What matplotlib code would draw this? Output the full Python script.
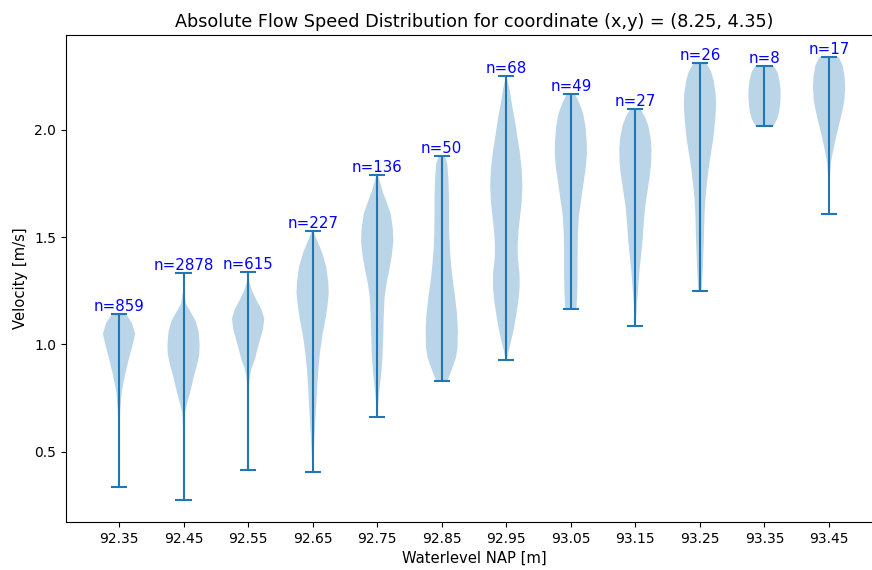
import numpy as np
import matplotlib
matplotlib.use("Agg")
import matplotlib.pyplot as plt

# Waterlevel classes (x axis) and sample counts per class
waterlevels = ["92.35", "92.45", "92.55", "92.65", "92.75", "92.85",
               "92.95", "93.05", "93.15", "93.25", "93.35", "93.45"]
counts = [859, 2878, 615, 227, 136, 50, 68, 49, 27, 26, 8, 17]

# Min / max velocity per class [m/s]
v_min = [0.334, 0.276, 0.414, 0.408, 0.663, 0.831,
         0.930, 1.165, 1.085, 1.247, 2.017, 1.606]
v_max = [1.140, 1.331, 1.337, 1.528, 1.789, 1.877,
         2.249, 2.168, 2.098, 2.311, 2.300, 2.339]

# Density profiles: (velocity, relative density)
prof_9235 = [(1.140, 0.45), (1.10, 0.80), (1.05, 1.00), (1.00, 0.85), (0.93, 0.60),
             (0.85, 0.35), (0.78, 0.17), (0.70, 0.08), (0.62, 0.04), (0.50, 0.015),
             (0.334, 0.005)]
prof_9245 = [(1.331, 0.00), (1.25, 0.03), (1.19, 0.15), (1.15, 0.45), (1.11, 0.75),
             (1.06, 0.93), (1.00, 1.00), (0.95, 0.97), (0.90, 0.82), (0.84, 0.60),
             (0.78, 0.42), (0.72, 0.20), (0.68, 0.08), (0.60, 0.03), (0.50, 0.015),
             (0.276, 0.005)]
prof_9255 = [(1.337, 0.02), (1.29, 0.08), (1.25, 0.25), (1.21, 0.50), (1.16, 0.85),
             (1.12, 1.00), (1.07, 0.92), (1.02, 0.73), (0.97, 0.55), (0.93, 0.42),
             (0.89, 0.22), (0.85, 0.10), (0.78, 0.04), (0.65, 0.02), (0.414, 0.01)]
prof_9265 = [(1.528, 0.05), (1.49, 0.25), (1.43, 0.58), (1.36, 0.85), (1.29, 0.97),
             (1.24, 1.00), (1.18, 0.92), (1.12, 0.80), (1.04, 0.60), (0.96, 0.45),
             (0.88, 0.35), (0.80, 0.28), (0.72, 0.22), (0.65, 0.17), (0.57, 0.11),
             (0.50, 0.06), (0.44, 0.03), (0.408, 0.02)]
prof_9275 = [(1.789, 0.05), (1.75, 0.20), (1.71, 0.35), (1.66, 0.60), (1.61, 0.83),
             (1.54, 0.97), (1.48, 1.00), (1.41, 0.90), (1.34, 0.73), (1.28, 0.57),
             (1.22, 0.46), (1.14, 0.41), (1.06, 0.38), (0.94, 0.33), (0.88, 0.27),
             (0.83, 0.20), (0.77, 0.12), (0.72, 0.06), (0.663, 0.03)]
prof_9285 = [(1.877, 0.20), (1.84, 0.35), (1.76, 0.42), (1.68, 0.45), (1.60, 0.45),
             (1.53, 0.46), (1.45, 0.50), (1.37, 0.58), (1.29, 0.70), (1.22, 0.83),
             (1.14, 0.95), (1.06, 1.00), (0.98, 0.97), (0.94, 0.88), (0.90, 0.70),
             (0.86, 0.50), (0.831, 0.35)]
prof_9295 = [(2.249, 0.03), (2.19, 0.20), (2.12, 0.35), (2.05, 0.52), (1.97, 0.68),
             (1.90, 0.83), (1.82, 0.95), (1.74, 1.00), (1.66, 0.95), (1.60, 0.86),
             (1.53, 0.76), (1.46, 0.70), (1.40, 0.72), (1.33, 0.82), (1.27, 0.83),
             (1.20, 0.74), (1.13, 0.60), (1.07, 0.46), (1.01, 0.28), (0.97, 0.15),
             (0.930, 0.05)]
prof_9305 = [(2.168, 0.25), (2.13, 0.50), (2.08, 0.75), (2.02, 0.90), (1.95, 0.98),
             (1.89, 1.00), (1.82, 0.92), (1.75, 0.78), (1.68, 0.65), (1.60, 0.50),
             (1.52, 0.44), (1.43, 0.42), (1.33, 0.42), (1.25, 0.40), (1.165, 0.35)]
prof_9315 = [(2.098, 0.30), (2.06, 0.60), (2.02, 0.80), (1.96, 0.95), (1.91, 1.00),
             (1.85, 0.98), (1.79, 0.90), (1.72, 0.76), (1.65, 0.62), (1.57, 0.52),
             (1.50, 0.46), (1.42, 0.36), (1.34, 0.25), (1.26, 0.17), (1.19, 0.10),
             (1.13, 0.05), (1.085, 0.02)]
prof_9325 = [(2.311, 0.40), (2.27, 0.70), (2.23, 0.85), (2.17, 0.97), (2.12, 1.00),
             (2.05, 0.95), (1.96, 0.83), (1.88, 0.66), (1.81, 0.52), (1.73, 0.40),
             (1.65, 0.31), (1.57, 0.27), (1.50, 0.25), (1.42, 0.21), (1.34, 0.17),
             (1.29, 0.13), (1.247, 0.10)]
prof_9335 = [(2.300, 0.55), (2.27, 0.80), (2.23, 0.93), (2.19, 0.99), (2.16, 1.00),
             (2.12, 0.97), (2.08, 0.90), (2.05, 0.78), (2.017, 0.55)]
prof_9345 = [(2.339, 0.60), (2.30, 0.85), (2.25, 0.96), (2.20, 1.00), (2.14, 0.95),
             (2.09, 0.83), (2.03, 0.64), (1.96, 0.42), (1.90, 0.25), (1.85, 0.12),
             (1.78, 0.06), (1.70, 0.03), (1.606, 0.02)]

profiles = [prof_9235, prof_9245, prof_9255, prof_9265, prof_9275, prof_9285,
            prof_9295, prof_9305, prof_9315, prof_9325, prof_9335, prof_9345]


def build_stats():
    """Turn the read-off profiles into the stats dicts that Axes.violin wants"""
    stats = []
    for prof, lo, hi in zip(profiles, v_min, v_max):
        arr = np.array(prof)
        stats.append({
            "coords": arr[:, 0],
            "vals": arr[:, 1],
            "mean": np.nan,
            "median": np.nan,
            "min": lo,
            "max": hi,
        })
    return stats


fig = plt.figure(figsize=(8.72, 5.70), dpi=100)
# axes runs slightly past the right edge, as in the (cropped) original
ax = fig.add_axes([0.0754, 0.0842, 0.9364, 0.8544])

positions = np.arange(1, len(waterlevels) + 1)
ax.violin(build_stats(), positions=positions, widths=0.5,
          showmeans=False, showextrema=True, showmedians=False)

# sample size above each violin
for pos, hi, n in zip(positions, v_max, counts):
    ax.text(pos, hi, f"n={n}", ha="center", va="bottom", color="blue", fontsize=10.8)

ax.set_xticks(positions)
ax.set_xticklabels(waterlevels)
ax.set_xlim(0.175, 12.825)
ax.set_xlabel("Waterlevel NAP [m]", fontsize=10.6)
ax.set_ylabel("Velocity [m/s]", fontsize=10.6)
ax.set_title("Absolute Flow Speed Distribution for coordinate (x,y) = (8.25, 4.35)",
             fontsize=12.7)

fig.savefig("out.png", dpi=100)
